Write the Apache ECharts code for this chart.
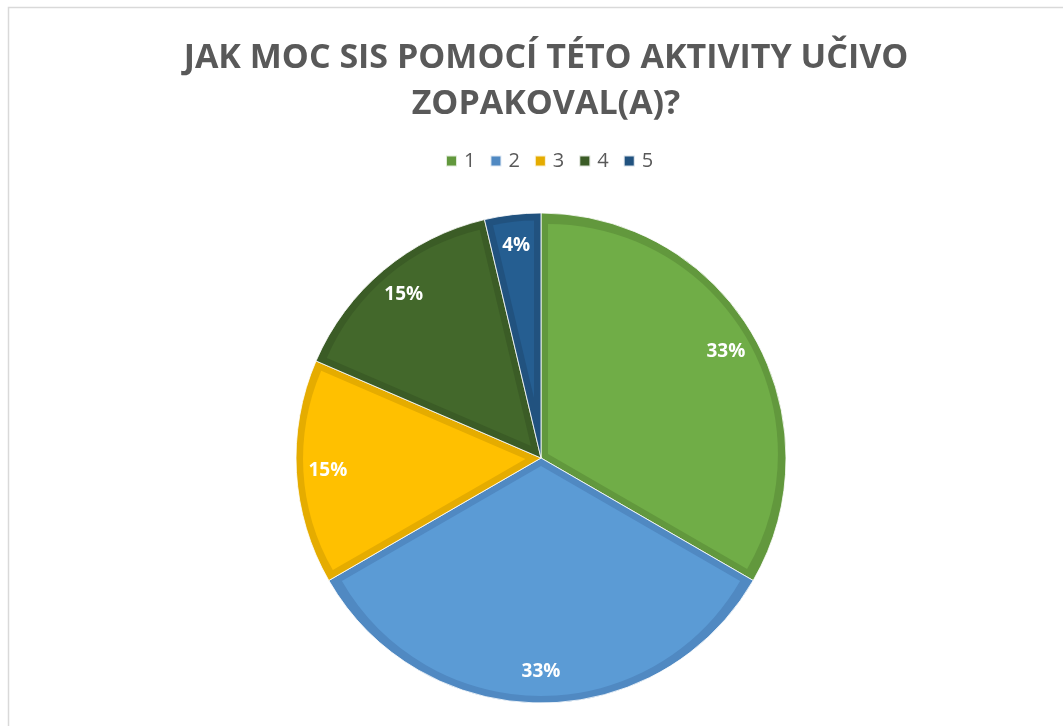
<!DOCTYPE html>
<html>
<head>
<meta charset="utf-8">
<script src="https://cdn.jsdelivr.net/npm/echarts@6/dist/echarts.min.js"></script>
<style>
html,body{margin:0;padding:0;background:#fff;}
#chart{width:1063px;height:726px;}
</style>
</head>
<body>
<div id="chart"></div>
<script>
const titleText = 'JAK MOC SIS POMOCÍ TÉTO AKTIVITY UČIVO\nZOPAKOVAL(A)?';
const categories = ['1', '2', '3', '4', '5'];
const counts = [9, 9, 4, 4, 1];
const fillColors = ['#70AD47', '#5B9BD5', '#FFC000', '#43682B', '#255E91'];
const bandColors = ['#62983D', '#5089C2', '#E5AC00', '#3B5C26', '#21527F'];

const chart = echarts.init(document.getElementById('chart'));
const center = [541, 458];
const R = 245;      // outer radius
const BAND = 7;     // bevel band width

const total = counts.reduce((a, b) => a + b, 0);

// Bevel: one inset layer per slice, pushed out along its bisector by the library's selectedOffset
const insetSeries = categories.map((cat, k) => {
  const halfAngle = Math.PI * counts[k] / total;
  const off = BAND / Math.sin(halfAngle);
  return {
    type: 'pie', center: center, radius: [0, R - BAND - off],
    startAngle: 90, clockwise: true,
    selectedMode: 'single', selectedOffset: off,
    silent: true, label: { show: false }, labelLine: { show: false },
    emphasis: { disabled: true },
    data: categories.map((c, i) => ({
      name: c, value: counts[i], selected: i === k,
      itemStyle: i === k ? { color: fillColors[i] } : { color: 'rgba(0,0,0,0)', opacity: 0 }
    }))
  };
});

chart.setOption({
  animation: false,
  graphic: [{
    type: 'rect', silent: true, z: -10,
    shape: { x: 8.5, y: 7.5, width: 1200, height: 900 },
    style: { fill: '#fff', stroke: '#d9d9d9', lineWidth: 1.5 }
  }],
  title: {
    text: titleText,
    left: 541,
    textAlign: 'center',
    top: 30,
    textStyle: {
      fontFamily: 'Open Sans', fontWeight: 'bold', fontSize: 34,
      color: '#595959', lineHeight: 46
    }
  },
  legend: {
    data: categories,
    top: 146,
    left: 440,
    icon: 'rect',
    itemWidth: 11, itemHeight: 11, itemGap: 14,
    selectedMode: false,
    textStyle: { fontFamily: 'Open Sans', fontSize: 20, color: '#595959', padding: [0, 0, 0, 2] }
  },
  series: [
    {
      type: 'pie', center: center, radius: [0, R], startAngle: 90, clockwise: true,
      silent: true, label: { show: false }, labelLine: { show: false },
      itemStyle: { borderColor: 'rgba(255,255,255,0.8)', borderWidth: 1 },
      data: categories.map((c, i) => ({ name: c, value: counts[i], itemStyle: { color: bandColors[i] } }))
    },
    ...insetSeries,
    {
      type: 'pie', center: center, radius: [176, R], startAngle: 90, clockwise: true,
      silent: true, percentPrecision: 0,
      itemStyle: { color: 'rgba(0,0,0,0)' },
      label: {
        show: true, position: 'inside', formatter: '{d}%',
        fontFamily: 'Open Sans', fontWeight: 'bold', fontSize: 19, color: '#ffffff'
      },
      labelLine: { show: false },
      data: categories.map((c, i) => ({ name: c, value: counts[i] }))
    }
  ]
});
</script>
</body>
</html>
